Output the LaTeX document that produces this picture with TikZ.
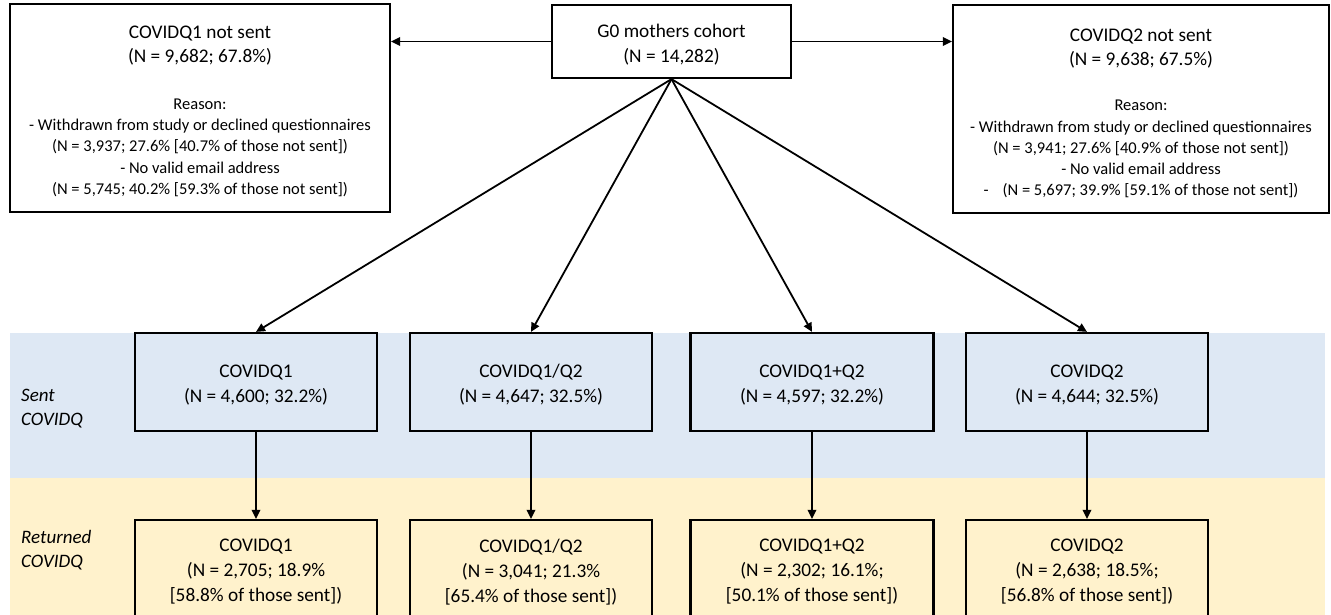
\documentclass[tikz,border=0pt]{standalone}
\usepackage{fontspec}
\setmainfont{Carlito}
\usetikzlibrary{arrows.meta}
\definecolor{bandblue}{HTML}{DEE8F4}
\definecolor{bandyellow}{HTML}{FFF2CC}
\tikzset{
  box/.style={draw=black, line width=2.2pt, align=center, inner sep=0pt, font=\fontsize{19.3}{25}\selectfont},
  frame/.style={draw=black, line width=2.2pt, fill=white, inner sep=0pt},
  title/.style={anchor=north, align=center, inner sep=0pt, font=\fontsize{19.3}{24}\selectfont},
  reason/.style={anchor=north, align=center, inner sep=0pt, font=\fontsize{16.5}{21.3}\selectfont},
  conn/.style={line width=1.8pt, -{Triangle[length=9pt,width=8.5pt]}},
  lab/.style={anchor=base west, inner sep=0pt, font=\fontsize{19}{24}\selectfont\itshape}
}
\begin{document}
\begin{tikzpicture}[x=1pt,y=-1pt]
\useasboundingbox (0,0) rectangle (1331,615);
\clip (0,0) rectangle (1331,615);
% bands
\fill[bandblue] (10,333) rectangle (1325,478);
\fill[bandyellow] (10,478) rectangle (1325,620);
% top boxes
\node[box, fill=white, minimum width=239pt, minimum height=73pt] (g0) at (671.5,41.5) {\rule{0pt}{20pt}G0 mothers cohort\\(N = 14,282)};
\node[frame, minimum width=380pt, minimum height=208pt] (ns1) at (200,108) {};
\node[title] (ns1t) at (200,22.5) {\rule{0pt}{16pt}COVIDQ1 not sent\\(N = 9,682; 67.8\%)};
\node[reason] (ns1r) at (200,95) {\rule{0pt}{14pt}Reason:\\
  - Withdrawn from study or declined questionnaires\\
  (N = 3,937; 27.6\% [40.7\% of those not sent])\\
  - No valid email address\\
  (N = 5,745; 40.2\% [59.3\% of those not sent])};
\node[frame, minimum width=376pt, minimum height=208pt] (ns2) at (1141,109) {};
\node[title] (ns2t) at (1141,25) {\rule{0pt}{16pt}COVIDQ2 not sent\\(N = 9,638; 67.5\%)};
\node[reason] (ns2r) at (1141,96.5) {\rule{0pt}{14pt}Reason:\\
  - Withdrawn from study or declined questionnaires\\
  (N = 3,941; 27.6\% [40.9\% of those not sent])\\
  - No valid email address\\
  -\hspace{14pt}(N = 5,697; 39.9\% [59.1\% of those not sent])};
% sent boxes
\node[box, fill=bandblue, minimum width=242pt, minimum height=98pt] (s1) at (256,382) {\rule{0pt}{19pt}COVIDQ1\\(N = 4,600; 32.2\%)};
\node[box, fill=bandblue, minimum width=242pt, minimum height=98pt] (s2) at (531,382) {\rule{0pt}{19pt}COVIDQ1/Q2\\(N = 4,647; 32.5\%)};
\node[box, fill=bandblue, minimum width=243pt, minimum height=98pt] (s3) at (812,382) {\rule{0pt}{19pt}COVIDQ1+Q2\\(N = 4,597; 32.2\%)};
\node[box, fill=bandblue, minimum width=242pt, minimum height=98pt] (s4) at (1087,382) {\rule{0pt}{19pt}COVIDQ2\\(N = 4,644; 32.5\%)};
% returned boxes
\node[box, fill=bandyellow, minimum width=242pt, minimum height=104pt] (r1) at (256,572) {COVIDQ1\\(N = 2,705; 18.9\%\\{}[58.8\% of those sent])};
\node[box, fill=bandyellow, minimum width=242pt, minimum height=104pt] (r2) at (531,572) {COVIDQ1/Q2\\(N = 3,041; 21.3\%\\{}[65.4\% of those sent])};
\node[box, fill=bandyellow, minimum width=243pt, minimum height=104pt] (r3) at (812,572) {COVIDQ1+Q2\\(N = 2,302; 16.1\%;\\{}[50.1\% of those sent])};
\node[box, fill=bandyellow, minimum width=242pt, minimum height=104pt] (r4) at (1087,572) {COVIDQ2\\(N = 2,638; 18.5\%;\\{}[56.8\% of those sent])};
% row labels
\node[lab] (ls1) at (21,401) {Sent};
\node[lab] (ls2) at (21,425) {COVIDQ};
\node[lab] (lr1) at (21,543) {Returned};
\node[lab] (lr2) at (21,567) {COVIDQ};
% connectors
\draw[conn] (g0.west) -- (ns1.east |- g0.west);
\draw[conn] (g0.east) -- (ns2.west |- g0.east);
\foreach \n in {s1,s2,s3,s4} \draw[conn] (g0.south) -- (\n.north);
\draw[conn] (s1.south) -- (r1.north);
\draw[conn] (s2.south) -- (r2.north);
\draw[conn] (s3.south) -- (r3.north);
\draw[conn] (s4.south) -- (r4.north);
\end{tikzpicture}
\end{document}
